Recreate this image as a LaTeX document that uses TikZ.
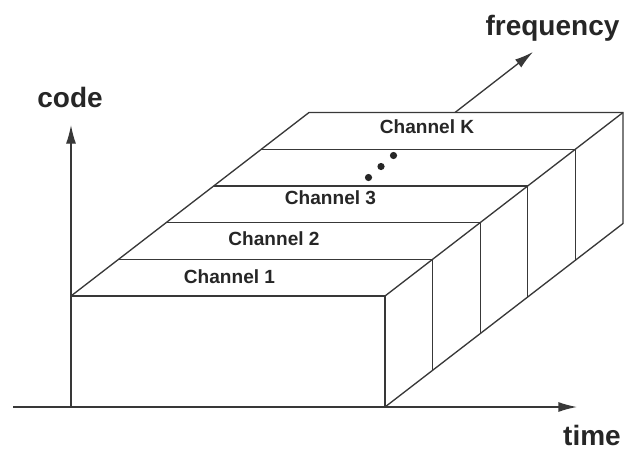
\documentclass[tikz,border=0pt]{standalone}
\usepackage{fontspec}
\setmainfont{Liberation Sans}
\usetikzlibrary{arrows.meta,calc}
\begin{document}
\begin{tikzpicture}[x=0.75pt,y=-0.75pt,
  edge/.style={draw=black!78,line width=1pt,line join=miter},
  axis/.style={edge,-{Latex[length=14pt,width=7.5pt]}},
  axislabel/.style={text=black!85,font=\fontsize{21}{24}\selectfont\bfseries,inner sep=0pt,anchor=base},
  chanlabel/.style={text=black!85,font=\fontsize{14.3}{16}\selectfont\bfseries,inner sep=0pt,anchor=base},
  dot/.style={fill=black!85}]
\useasboundingbox (0,0) rectangle (624,450);

% front face corners and the frequency-depth offset of the block
\coordinate (O)  at (71,407);
\coordinate (A)  at (71,296);
\coordinate (B)  at (385,296);
\coordinate (C)  at (385,407);
\coordinate (Ab) at (309,112.5);
\coordinate (Bb) at (623,112.5);
\coordinate (Cb) at (623,223.5);

% axes
\coordinate (tstart) at (13,407);
\coordinate (tend)   at (577,407);
\coordinate (cend)   at (71,125);
\coordinate (fstart) at (455,112.5);
\coordinate (fend)   at (533,52);
\draw[axis] (tstart) -- (tend);
\draw[axis] (O) -- (cend);
\draw[axis] (fstart) -- (fend);

% block outline
\draw[edge] (A) -- (B) -- (C);
\draw[edge] (A) -- (Ab) -- (Bb) -- (Cb) -- (C);
\draw[edge] (B) -- (Bb);

% channel boundaries on the top face and the right face
\foreach \k in {1,...,4}{
  \draw[edge] ($(A)!\k/5!(Ab)$) -- ($(B)!\k/5!(Bb)$) -- ($(C)!\k/5!(Cb)$);
}

% labels
\node[axislabel] (code) at (70,107) {code};
\node[axislabel] (freq) at (552.5,35) {frequency};
\node[axislabel] (time) at (592,445) {time};

\node[chanlabel] (ch1) at (229.5,283) {Channel 1};
\node[chanlabel] (ch2) at (274,245.7) {Channel 2};
\node[chanlabel] (ch3) at (330.5,204) {Channel 3};
\node[chanlabel] (chK) at (427,133) {Channel K};

% ellipsis between channel 3 and channel K
\fill[dot] (368.5,177.5) circle[radius=2.7pt];
\fill[dot] (381,166.5) circle[radius=2.7pt];
\fill[dot] (393.5,155.5) circle[radius=2.7pt];
\end{tikzpicture}
\end{document}
